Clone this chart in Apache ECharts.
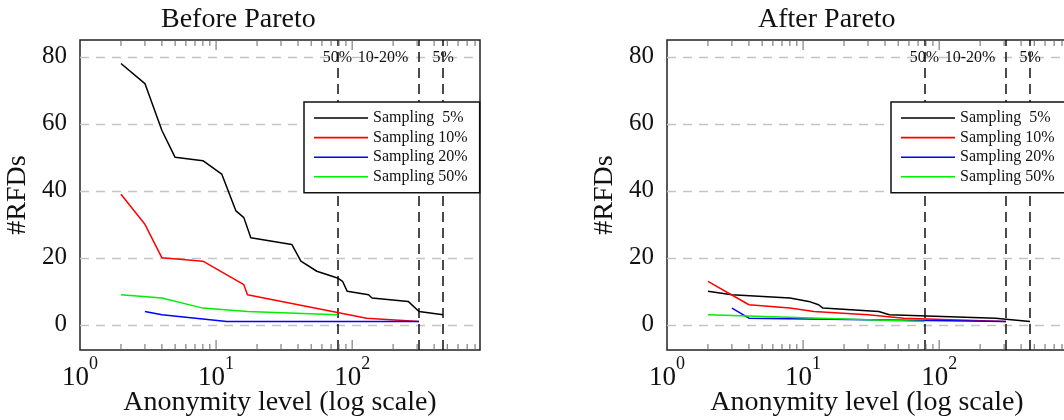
<!DOCTYPE html>
<html>
<head>
<meta charset="utf-8">
<script src="https://cdn.jsdelivr.net/npm/echarts@6/dist/echarts.min.js"></script>
<style>
html,body{margin:0;padding:0;background:#fff;}
#chart{width:1064px;height:420px;}
</style>
</head>
<body>
<div id="chart"></div>
<script>
// ---------- data ----------
var seriesNames = ['Sampling  5%', 'Sampling 10%', 'Sampling 20%', 'Sampling 50%'];
var seriesColors = ['#000000', '#ff0000', '#0000ff', '#00ee00'];

var beforeS5  = [[2,78],[3,72],[4,58],[5,50],[8,49],[11,45],[14,34],[16,32],[18,26],[36,24],[42,19],[55,16],[78,14],[85,13],[92,10],[132,9],[140,8],[258,7],[310,4],[466,3]];
var beforeS10 = [[2,39],[3,30],[4,20],[8,19],[16,12],[17,9],[78,3.7],[128,2],[310,1]];
var beforeS20 = [[3,4],[4,3],[12,1],[310,1]];
var beforeS50 = [[2,9],[4,8],[8,5],[17,4],[78,3]];

var afterS5  = [[2,10],[3,9],[8,8],[11,7],[13,6],[14,5],[36,4],[43,3],[260,2],[310,1.7],[466,1]];
var afterS10 = [[2,13],[4,6],[8,5],[12,4],[30,3],[55,2],[310,1]];
var afterS20 = [[3,5],[4,2],[310,1]];
var afterS50 = [[2,3],[78,1]];

var vlineValues = [78, 310, 466];
var vlineLabels = ['50%', '10-20%', '5%'];

var panelTitles = ['Before Pareto', 'After Pareto'];
var yTickValues = [0, 20, 40, 60, 80];
var xTickMajor = [10, 100];
var xTickMinor = [2,3,4,5,6,7,8,9,20,30,40,50,60,70,80,90,200,300,400,500,600,700,800];
var xName = 'Anonymity level (log scale)';
var yName = '#RFDs';

// ---------- layout / style ----------
var FONT = "'Liberation Serif','DejaVu Serif',serif";
var grids = [
  {left: 80, top: 40, width: 400, height: 310},
  {left: 667, top: 40, width: 400, height: 310}
];
var panelData = [
  [beforeS5, beforeS10, beforeS20, beforeS50],
  [afterS5, afterS10, afterS20, afterS50]
];

function xAxisFor(i) {
  return {
    type: 'log', logBase: 10, gridIndex: i, min: 1, max: 870,
    axisLine: {show: false}, axisTick: {show: false}, splitLine: {show: false},
    axisLabel: {
      showMaxLabel: false, showMinLabel: true, margin: 5,
      formatter: function (v) {
        var e = Math.round(Math.log10(v));
        if (Math.abs(Math.pow(10, e) - v) > 1e-6) return '';
        return '{b|10}{s|' + e + '}';
      },
      rich: {
        b: {fontFamily: FONT, fontSize: 27, color: '#111', lineHeight: 36, verticalAlign: 'bottom'},
        s: {fontFamily: FONT, fontSize: 18, color: '#111', lineHeight: 18, verticalAlign: 'top'}
      }
    },
    name: xName, nameLocation: 'middle', nameGap: 39, nameMoveOverlap: false,
    nameTextStyle: {fontFamily: FONT, fontSize: 28, color: '#111'}
  };
}
function yAxisFor(i) {
  return {
    type: 'value', gridIndex: i, min: -7.5, max: 85,
    axisLine: {show: false},
    axisTick: {show: false, customValues: yTickValues},
    axisLabel: {customValues: yTickValues, margin: 13, fontFamily: FONT, fontSize: 25, color: '#111'},
    splitLine: {show: true, customValues: yTickValues, lineStyle: {color: '#c4c4c4', width: 1.4, type: [9, 7]}},
    name: yName, nameLocation: 'middle', nameGap: 48, nameMoveOverlap: false,
    nameTextStyle: {fontFamily: FONT, fontSize: 28, color: '#111'}
  };
}
function tickSeries(i) {
  return {
    type: 'custom', xAxisIndex: i, yAxisIndex: i, silent: true, clip: false, z: 3,
    data: xTickMinor.map(function (v) { return [v, 0]; }).concat(xTickMajor.map(function (v) { return [v, 1]; })),
    renderItem: function (params, api) {
      var cs = params.coordSys;
      var x = api.coord([api.value(0), 0])[0];
      var len = api.value(1) ? 10 : 6;
      var st = {stroke: '#666', lineWidth: 1};
      return {type: 'group', children: [
        {type: 'line', shape: {x1: x, y1: cs.y + cs.height, x2: x, y2: cs.y + cs.height - len}, style: st},
        {type: 'line', shape: {x1: x, y1: cs.y, x2: x, y2: cs.y + len}, style: st}
      ]};
    }
  };
}
function vlineSeries(i) {
  return {
    type: 'line', xAxisIndex: i, yAxisIndex: i, data: [], silent: true, z: 2,
    markLine: {
      silent: true, symbol: ['none', 'none'], animation: false, z: 2,
      lineStyle: {color: '#111', width: 1.5, type: [10, 6]},
      data: vlineValues.map(function (v, k) {
        return {
          xAxis: v,
          label: {
            show: true, position: 'end', distance: 0, formatter: vlineLabels[k],
            offset: [k === 1 ? -36 : 0, 26],
            fontFamily: FONT, fontSize: 16, color: '#111'
          }
        };
      })
    }
  };
}

var series = [];
var xAxes = [], yAxes = [], legends = [], titles = [];
for (var i = 0; i < 2; i++) {
  xAxes.push(xAxisFor(i));
  yAxes.push(yAxisFor(i));
  series.push(tickSeries(i));
  series.push(vlineSeries(i));
  for (var s = 0; s < 4; s++) {
    series.push({
      type: 'line', name: seriesNames[s], xAxisIndex: i, yAxisIndex: i,
      data: panelData[i][s], symbol: 'none', showSymbol: false, z: 5,
      lineStyle: {color: seriesColors[s], width: 1.5}, itemStyle: {color: seriesColors[s]},
      animation: false
    });
  }
  legends.push({
    data: seriesNames, orient: 'vertical', left: i === 0 ? 304 : 891, top: 102,
    z: 100, zlevel: 0,
    backgroundColor: '#fff', borderColor: '#111', borderWidth: 1.5, borderRadius: 0,
    padding: [8, 12, 8, 10], icon: 'rect', itemWidth: 54, itemHeight: 1.6, itemGap: 3.6,
    selectedMode: false,
    textStyle: {fontFamily: FONT, fontSize: 16, color: '#111', lineHeight: 16}
  });
}
titles.push({text: panelTitles[0], left: 161, top: 6, padding: 0, textStyle: {fontFamily: FONT, fontSize: 28, fontWeight: 'normal', color: '#111'}});
titles.push({text: panelTitles[1], left: 758, top: 6, padding: 0, textStyle: {fontFamily: FONT, fontSize: 28, fontWeight: 'normal', color: '#111'}});

var chart = echarts.init(document.getElementById('chart'), null, {renderer: 'canvas'});
chart.setOption({
  animation: false,
  backgroundColor: '#fff',
  title: titles,
  legend: legends,
  grid: grids.map(function (g) {
    return Object.assign({show: true, borderColor: '#222', borderWidth: 1.5, backgroundColor: 'transparent', containLabel: false, outerBoundsMode: 'none'}, g);
  }),
  xAxis: xAxes,
  yAxis: yAxes,
  series: series
});
</script>
</body>
</html>
